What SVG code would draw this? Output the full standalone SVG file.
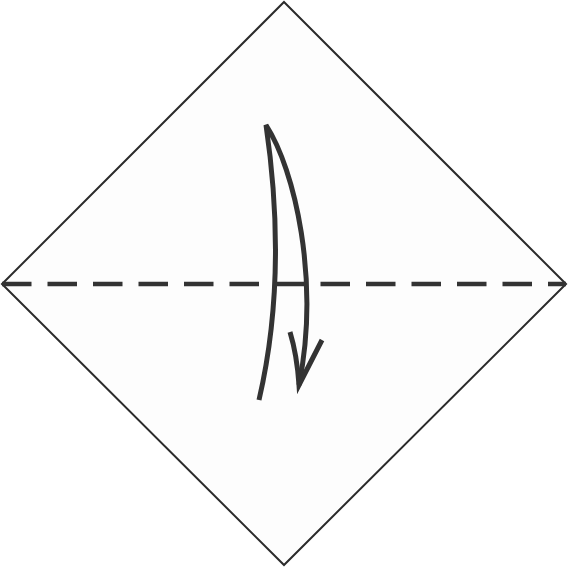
<svg xmlns="http://www.w3.org/2000/svg" width="568" height="567" viewBox="0 0 568 567">
  <style>
    .paper { fill: #fdfdfd; stroke: #2b2b2b; stroke-width: 2; stroke-linejoin: miter; }
    .fold { fill: none; stroke: #333333; stroke-width: 4.5; stroke-dasharray: 29.5 16; }
    .arrow { fill: none; stroke: #333333; stroke-width: 5; stroke-linejoin: miter; stroke-linecap: butt; }
  </style>
  <rect width="568" height="567" fill="#ffffff"/>
  <g id="paper">
    <polygon class="paper" points="284,2 566,284 284,565 2,284"/>
  </g>
  <g id="connectors">
    <line class="fold" x1="2" y1="284" x2="566" y2="284"/>
    <path class="arrow" d="M259,400 Q288,275 266,125 C295,170 320,280 299,385"/>
    <path class="arrow" d="M290,332 Q297,355 299,385 L322,340"/>
  </g>
</svg>
